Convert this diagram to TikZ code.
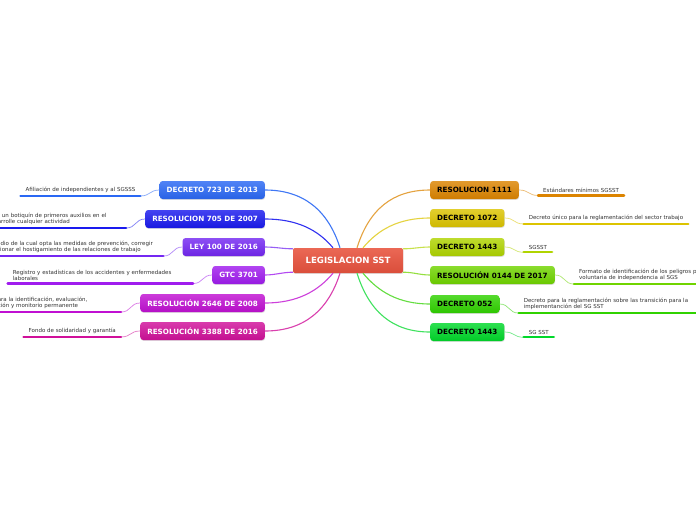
\documentclass[tikz,border=0pt]{standalone}
\usepackage{fontspec}
\setmainfont{DejaVu Sans}
\usepackage{tikz}
\usetikzlibrary{positioning,shadows}

% 颜色
\definecolor{cRoot}{HTML}{E8533E}
\definecolor{cA}{HTML}{2A68F4}
\definecolor{cB}{HTML}{1A1AEE}
\definecolor{cC}{HTML}{7428F2}
\definecolor{cD}{HTML}{A01CEE}
\definecolor{cE}{HTML}{C010D2}
\definecolor{cF}{HTML}{D0109A}
\definecolor{cG}{HTML}{DC8400}
\definecolor{cH}{HTML}{DCC400}
\definecolor{cI}{HTML}{B0D400}
\definecolor{cJ}{HTML}{70D400}
\definecolor{cK}{HTML}{30D200}
\definecolor{cL}{HTML}{00D82A}

\begin{document}
\begin{tikzpicture}[
        x=1pt, y=-1pt, % 像素坐标
        rama/.style={rounded corners=3pt, minimum height=18pt, inner xsep=7pt,
            top color=#1!82!white, bottom color=#1!94!black, text=white,
            font=\bfseries\fontsize{7.2}{8}\selectfont,
            drop shadow={opacity=0.25, shadow xshift=0.4pt, shadow yshift=-0.9pt}},
        ramaD/.style={rama=#1, text=black},
        hoja/.style={inner xsep=5pt, inner ysep=3pt, align=left,
            font=\fontsize{5.5}{6.2}\selectfont, text=black!80},
        enlace/.style={line width=1.1pt, #1},
        subraya/.style={line width=2.4pt, line cap=round, #1},
    ]
    % 画布
    \clip (0,0) rectangle (696,520);
    \fill[white] (0,0) rectangle (696,520);

    % 中心节点
    \node[rounded corners=2pt, minimum width=110pt, minimum height=25pt,
        top color=cRoot!88!white, bottom color=cRoot!94!black, text=white,
        font=\bfseries\fontsize{8.6}{9}\selectfont,
        drop shadow={opacity=0.25, shadow xshift=0.4pt, shadow yshift=-0.9pt}]
        (root) at (348,260.5) {LEGISLACION SST};

    % 左侧分支
    \node[rama=cA, anchor=east] (dA) at (265,190) {DECRETO 723 DE 2013};
    \node[rama=cB, anchor=east] (dB) at (265,219) {RESOLUCION 705 DE 2007};
    \node[rama=cC, anchor=east] (dC) at (265,247) {LEY 100 DE 2016};
    \node[rama=cD, anchor=east] (dD) at (265,275) {GTC 3701};
    \node[rama=cE, anchor=east] (dE) at (265,303) {RESOLUCIÓN 2646 DE 2008};
    \node[rama=cF, anchor=east] (dF) at (265,331) {RESOLUCIÓN 3388 DE 2016};

    % 右侧分支
    \node[ramaD=cG, anchor=west] (iA) at (430,190) {RESOLUCION 1111};
    \node[ramaD=cH, anchor=west] (iB) at (430,218) {DECRETO 1072};
    \node[ramaD=cI, anchor=west] (iC) at (430,247) {DECRETO 1443};
    \node[ramaD=cJ, anchor=west] (iD) at (430,275) {RESOLUCIÓN 0144 DE 2017};
    \node[ramaD=cK, anchor=west] (iE) at (430,304) {DECRETO 052};
    \node[ramaD=cL, anchor=west] (iF) at (430,332) {DECRETO 1443};

    % 左侧说明
    \node[hoja, left=19pt of dA] (hA) {Afiliación de independientes y al SGSSS};
    \node[hoja, text width=123pt, left=19pt of dB] (hB) {r un botiquín de primeros auxilios en el\\arrolle cualquier actividad};
    \node[hoja, text width=161pt, left=19pt of dC] (hC) {edio de la cual opta las medidas de prevención, corregir\\cionar el hostigamiento de las relaciones de trabajo};
    \node[hoja, text width=175pt, left=19pt of dD] (hD) {Registro y estadísticas de los accidentes y enfermedades\\laborales};
    \node[hoja, text width=118pt, left=19pt of dE] (hE) {ara la identificación, evaluación,\\ción y monitorio permanente};
    \node[hoja, left=19pt of dF] (hF) {Fondo de solidaridad y garantía};

    % 右侧说明
    \node[hoja, right=19pt of iA] (jA) {Estándares mínimos SGSST};
    \node[hoja, right=19pt of iB] (jB) {Decreto único para la reglamentación del sector trabajo};
    \node[hoja, right=19pt of iC] (jC) {SGSST};
    \node[hoja, text width=130pt, right=19pt of iD] (jD) {Formato de identificación de los peligros p\\voluntaria de independencia al SGS};
    \node[hoja, text width=180pt, right=19pt of iE] (jE) {Decreto para la reglamentación sobre las transición para la\\implementanción del SG SST};
    \node[hoja, right=19pt of iF] (jF) {SG SST};

    % 中心连线
    \draw[enlace=cA!90!white] ([xshift=-8pt]root.north) .. controls +(-12,-38) and +(38,0) .. (dA.east);
    \draw[enlace=cB!90!white] ([xshift=-15pt]root.north) .. controls +(-15,-18) and +(32,0) .. (dB.east);
    \draw[enlace=cC!75!white] ([yshift=-1pt]root.north west) .. controls +(-10,0) and +(10,0) .. (dC.east);
    \draw[enlace=cD!80!white] ([yshift=1pt]root.south west) .. controls +(-10,0) and +(10,0) .. (dD.east);
    \draw[enlace=cE!80!white] ([xshift=-15pt]root.south) .. controls +(-15,18) and +(32,0) .. (dE.east);
    \draw[enlace=cF!80!white] ([xshift=-8pt]root.south) .. controls +(-12,38) and +(38,0) .. (dF.east);
    \draw[enlace=cG!75!white] ([xshift=9pt]root.north) .. controls +(12,-38) and +(-38,0) .. (iA.west);
    \draw[enlace=cH!75!white] ([xshift=15pt]root.north) .. controls +(15,-18) and +(-32,0) .. (iB.west);
    \draw[enlace=cI!70!white] ([yshift=-1pt]root.north east) .. controls +(10,0) and +(-10,0) .. (iC.west);
    \draw[enlace=cJ!75!white] ([yshift=1pt]root.south east) .. controls +(10,0) and +(-10,0) .. (iD.west);
    \draw[enlace=cK!75!white] ([xshift=15pt]root.south) .. controls +(15,18) and +(-32,0) .. (iE.west);
    \draw[enlace=cL!75!white] ([xshift=9pt]root.south) .. controls +(12,38) and +(-38,0) .. (iF.west);

    % 说明连线
    \draw[enlace=cA!55!white, line width=0.7pt] (dA.west) .. controls +(-10,0) and +(10,0) .. (hA.south east);
    \draw[enlace=cB!55!white, line width=0.7pt] (dB.west) .. controls +(-10,0) and +(10,0) .. (hB.south east);
    \draw[enlace=cC!55!white, line width=0.7pt] (dC.west) .. controls +(-10,0) and +(10,0) .. (hC.south east);
    \draw[enlace=cD!55!white, line width=0.7pt] (dD.west) .. controls +(-10,0) and +(10,0) .. (hD.south east);
    \draw[enlace=cE!55!white, line width=0.7pt] (dE.west) .. controls +(-10,0) and +(10,0) .. (hE.south east);
    \draw[enlace=cF!55!white, line width=0.7pt] (dF.west) .. controls +(-10,0) and +(10,0) .. (hF.south east);
    \draw[enlace=cG!55!white, line width=0.7pt] (iA.east) .. controls +(10,0) and +(-10,0) .. (jA.south west);
    \draw[enlace=cH!55!white, line width=0.7pt] (iB.east) .. controls +(10,0) and +(-10,0) .. (jB.south west);
    \draw[enlace=cI!55!white, line width=0.7pt] (iC.east) .. controls +(10,0) and +(-10,0) .. (jC.south west);
    \draw[enlace=cJ!55!white, line width=0.7pt] (iD.east) .. controls +(10,0) and +(-10,0) .. (jD.south west);
    \draw[enlace=cK!55!white, line width=0.7pt] (iE.east) .. controls +(10,0) and +(-10,0) .. (jE.south west);
    \draw[enlace=cL!55!white, line width=0.7pt] (iF.east) .. controls +(10,0) and +(-10,0) .. (jF.south west);

    % 下划线
    \draw[subraya=cA] (hA.south west) -- (hA.south east);
    \draw[subraya=cB] (hB.south west) -- (hB.south east);
    \draw[subraya=cC] (hC.south west) -- (hC.south east);
    \draw[subraya=cD] (hD.south west) -- (hD.south east);
    \draw[subraya=cE] (hE.south west) -- (hE.south east);
    \draw[subraya=cF] (hF.south west) -- (hF.south east);
    \draw[subraya=cG] (jA.south west) -- (jA.south east);
    \draw[subraya=cH] (jB.south west) -- (jB.south east);
    \draw[subraya=cI] (jC.south west) -- (jC.south east);
    \draw[subraya=cJ] (jD.south west) -- (jD.south east);
    \draw[subraya=cK] (jE.south west) -- (jE.south east);
    \draw[subraya=cL] (jF.south west) -- (jF.south east);
\end{tikzpicture}
\end{document}
